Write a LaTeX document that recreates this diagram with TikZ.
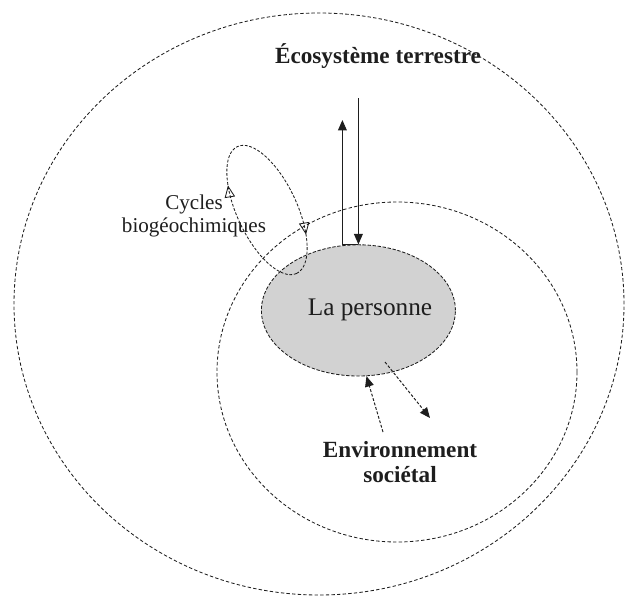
\documentclass[tikz,border=0pt]{standalone}
\usepackage{fontspec}
\setmainfont{Liberation Serif}
\usetikzlibrary{arrows.meta,shapes.geometric,decorations.markings}
\definecolor{ink}{HTML}{1E1E1E}
\definecolor{pgray}{HTML}{D2D2D2}
\tikzset{
  every node/.style={text=ink},
  ring/.style ={draw=ink, line width=0.6pt, dash pattern=on 2.4pt off 1.6pt},
  perso/.style={ellipse, draw=ink, fill=pgray, line width=0.6pt,
                dash pattern=on 2.4pt off 1.2pt, minimum width=4.85cm,
                minimum height=3.28cm, inner sep=0pt},
  ttl/.style  ={font=\fontsize{16.5}{17.8}\selectfont\bfseries, align=center},
  lbl/.style  ={font=\fontsize{15}{16.3}\selectfont, align=center},
  big/.style  ={font=\fontsize{18}{20}\selectfont},
  ar/.style   ={-{Triangle[length=2.6mm, width=2.2mm]}, line width=0.7pt, draw=ink},
  ard/.style  ={ar, dash pattern=on 2pt off 1.3pt},
  opentip/.style={decoration={markings,
      mark=at position 0.13 with {\arrowreversed{Triangle[open, length=3mm, width=2.6mm, line width=0.6pt]}},
      mark=at position 0.63 with {\arrowreversed{Triangle[open, length=3mm, width=2.6mm, line width=0.6pt]}}},
      postaction={decorate}},
  cyc/.style  ={draw=ink, line width=0.6pt, dash pattern=on 2pt off 1.2pt, opentip},
}

\begin{document}
\begin{tikzpicture}
\useasboundingbox (0,0) rectangle (15.675,-14.95);

% ---------------- nested environments ----------------
\draw[ring] (7.975,-7.6) ellipse [x radius=7.625, y radius=7.275];
\draw[ring] (9.925,-9.3) ellipse [x radius=4.5, y radius=4.25];

\node[ttl] (eco) at (9.45,-1.4) {Écosystème terrestre};
\node[ttl] (soc) at (10.0,-11.55) {Environnement\\sociétal};

% ---------------- the person ----------------
\node[perso] (pers) at (8.96,-7.76) {};
\node[big] (persl) at (9.25,-7.75) {La personne};

% ---------------- biogeochemical cycle loop ----------------
\draw[cyc, rotate around={-65:(6.675,-5.25)}] (6.675,-5.25) ellipse [x radius=1.75, y radius=0.75];
\node[lbl] (cyl) at (4.85,-5.4) {Cycles\\biogéochimiques};

% ---------------- exchanges ----------------
\coordinate (upTip) at (8.56,-3.0);
\coordinate (dnTop) at (8.96,-2.45);
\draw[ar] (pers.north) -| (upTip);
\draw[ar] (dnTop) -- (pers.north);

\coordinate (inA)  at (9.575,-10.8);
\coordinate (outS) at (9.625,-9.05);
\coordinate (outE) at (10.75,-10.45);
\draw[ard] (inA) -- (pers.-83);
\draw[ard] (outS) -- (outE);

\end{tikzpicture}
\end{document}
